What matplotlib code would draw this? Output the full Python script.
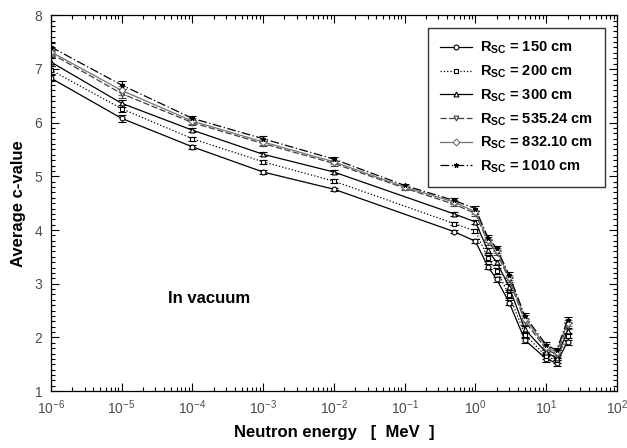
import numpy as np
import matplotlib
matplotlib.use('Agg')
import matplotlib.pyplot as plt
from matplotlib.lines import Line2D
from matplotlib.ticker import LogLocator, MultipleLocator, NullFormatter, FixedLocator

plt.rcParams['font.family'] = ['Liberation Sans', 'DejaVu Sans']
plt.rcParams['mathtext.fontset'] = 'custom'
plt.rcParams['mathtext.rm'] = 'Liberation Sans'
plt.rcParams['mathtext.bf'] = 'Liberation Sans:bold'

# energies [MeV]
e_low = [1e-6, 1e-5, 1e-4, 1e-3, 1e-2, 0.5, 1, 1.5, 2, 3, 5, 10, 14, 20]
e_high = [1e-6, 1e-5, 1e-4, 1e-3, 1e-2, 0.1, 0.5, 1, 1.5, 2, 3, 5, 10, 14, 20]

c_150 = [6.83, 6.08, 5.55, 5.08, 4.76, 3.97, 3.79, 3.32, 3.08, 2.65, 1.95, 1.60, 1.52, 1.92]
c_200 = [6.98, 6.26, 5.70, 5.27, 4.91, 4.12, 3.98, 3.48, 3.24, 2.79, 2.05, 1.65, 1.57, 2.02]
c_300 = [7.13, 6.36, 5.86, 5.41, 5.08, 4.30, 4.15, 3.62, 3.40, 2.94, 2.15, 1.72, 1.62, 2.12]
c_535 = [7.29, 6.54, 6.00, 5.61, 5.24, 4.78, 4.48, 4.31, 3.78, 3.58, 3.08, 2.30, 1.78, 1.68, 2.22]
c_832 = [7.32, 6.60, 6.03, 5.64, 5.27, 4.80, 4.52, 4.34, 3.82, 3.62, 3.12, 2.35, 1.82, 1.72, 2.27]
c_1010 = [7.41, 6.70, 6.08, 5.70, 5.32, 4.83, 4.55, 4.40, 3.86, 3.66, 3.16, 2.40, 1.86, 1.76, 2.32]

err_150 = [0.06, 0.06, 0.04, 0.04, 0.03, 0.03, 0.04, 0.05, 0.05, 0.05, 0.06, 0.05, 0.05, 0.06]
err_200 = [0.07, 0.07, 0.04, 0.04, 0.04, 0.03, 0.04, 0.05, 0.05, 0.05, 0.06, 0.05, 0.05, 0.06]
err_300 = [0.07, 0.07, 0.04, 0.04, 0.04, 0.03, 0.04, 0.05, 0.05, 0.05, 0.06, 0.05, 0.05, 0.06]
err_535 = [0.07, 0.08, 0.05, 0.05, 0.04, 0.03, 0.04, 0.04, 0.05, 0.05, 0.05, 0.06, 0.05, 0.05, 0.06]
err_832 = [0.07, 0.08, 0.05, 0.05, 0.04, 0.03, 0.04, 0.04, 0.05, 0.05, 0.05, 0.06, 0.05, 0.05, 0.06]
err_1010 = [0.07, 0.08, 0.05, 0.05, 0.04, 0.03, 0.04, 0.04, 0.05, 0.05, 0.05, 0.06, 0.05, 0.05, 0.06]

labels = ['150', '200', '300', '535.24', '832.10', '1010']
x_ticks = [1e-6, 1e-5, 1e-4, 1e-3, 1e-2, 1e-1, 1e0, 1e1, 1e2]

series = [
  (e_low, c_150, err_150, 'k', '-', 'o', 'white'),
  (e_low, c_200, err_200, 'k', ':', 's', 'white'),
  (e_low, c_300, err_300, 'k', '-', '^', 'white'),
  (e_high, c_535, err_535, '0.25', (0, (5, 2)), 'v', 'white'),
  (e_high, c_832, err_832, '0.45', '-', 'D', 'white'),
  (e_high, c_1010, err_1010, 'k', (0, (7, 2, 1, 2)), '*', 'k'),
]

fig, ax = plt.subplots(figsize=(6.27, 4.48), dpi=100)

handles = []
for (xs, ys, es, col, ls, mk, mfc), lab in zip(series, labels):
  ax.errorbar(xs, ys, yerr=es, color=col, linestyle=ls, linewidth=0.9,
    marker=mk, markersize=3.5, markerfacecolor=mfc, markeredgecolor=col,
    markeredgewidth=0.8, ecolor=col, elinewidth=0.8, capsize=3)
  handles.append(Line2D([], [], color=col, linestyle=ls, linewidth=0.9,
    marker=mk, markersize=3.5, markerfacecolor=mfc, markeredgecolor=col,
    markeredgewidth=0.8, label=r'$\mathbf{R_{SC}}$ = ' + lab + ' cm'))

ax.set_xscale('log')
ax.set_xlim(1e-6, 1e2)
ax.set_ylim(1, 8)
ax.xaxis.set_major_locator(FixedLocator(x_ticks))
ax.xaxis.set_minor_locator(LogLocator(base=10, subs=np.arange(2, 10), numticks=20))
ax.xaxis.set_minor_formatter(NullFormatter())
ax.yaxis.set_major_locator(MultipleLocator(1))
ax.yaxis.set_minor_locator(MultipleLocator(0.1))

ax.tick_params(which='both', direction='in', top=True, right=True,
  labelsize=10, labelcolor='0.3', width=0.8)
ax.tick_params(which='major', length=6)
ax.tick_params(which='minor', length=3)
ax.tick_params(axis='x', which='major', pad=5)
ax.tick_params(axis='y', which='major', pad=6)
for sp in ax.spines.values():
  sp.set_linewidth(0.9)

ax.set_xlabel('Neutron energy   [  MeV  ]', fontsize=12, fontweight='bold', labelpad=6)
ax.set_ylabel('Average c-value', fontsize=12, fontweight='bold', labelpad=6)

ax.text(0.207, 0.247, 'In vacuum', transform=ax.transAxes, fontsize=12,
  fontweight='bold', ha='left', va='center')

leg = ax.legend(handles=handles, loc='upper right', bbox_to_anchor=(0.979, 0.965),
  borderaxespad=0, fontsize=10.5, frameon=True, fancybox=False, edgecolor='k',
  handlelength=2.2, labelspacing=0.5, borderpad=0.8, handletextpad=0.6,
  numpoints=1)
leg.get_frame().set_linewidth(1.0)
for t in leg.get_texts():
  t.set_fontweight('bold')

fig.subplots_adjust(left=0.081, right=0.984, top=0.966, bottom=0.127)
fig.savefig('out.png', dpi=100)
